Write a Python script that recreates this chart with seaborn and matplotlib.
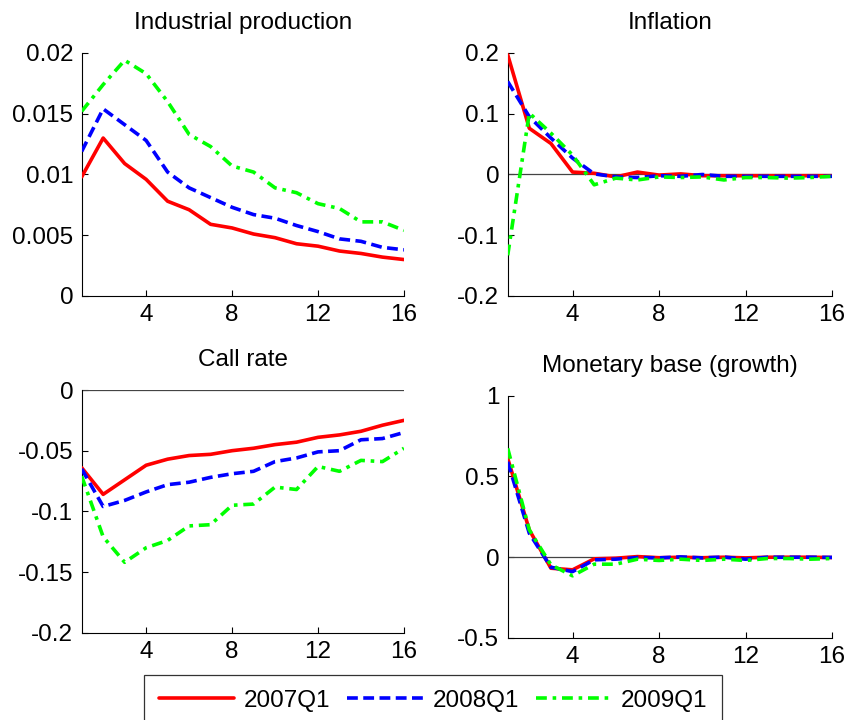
import numpy as np
import pandas as pd
import matplotlib
matplotlib.use("Agg")
import matplotlib.pyplot as plt
import seaborn as sns

sns.set_style("ticks")
plt.rcParams['font.family'] = ['Liberation Sans', 'DejaVu Sans']
plt.rcParams['text.color'] = 'black'
plt.rcParams['xtick.color'] = 'black'
plt.rcParams['ytick.color'] = 'black'
plt.rcParams['axes.edgecolor'] = 'black'

horizon = list(range(1, 17))
series_names = ["2007Q1", "2008Q1", "2009Q1"]
colors = ["#ff0000", "#0000ff", "#00ff00"]
styles = ["-", (0, (3.0, 1.5)), (0, (3.0, 1.6, 1.0, 1.6))]

ip_2007 = [0.0098, 0.0130, 0.0109, 0.0096, 0.0078, 0.0071, 0.0059, 0.0056, 0.0051, 0.0048, 0.0043, 0.0041, 0.0037, 0.0035, 0.0032, 0.0030]
ip_2008 = [0.0119, 0.0154, 0.0141, 0.0128, 0.0102, 0.0089, 0.0081, 0.0073, 0.0067, 0.0064, 0.0058, 0.0053, 0.0047, 0.0045, 0.0040, 0.0038]
ip_2009 = [0.0152, 0.0174, 0.0194, 0.0183, 0.0160, 0.0133, 0.0123, 0.0107, 0.0102, 0.0089, 0.0085, 0.0076, 0.0072, 0.0061, 0.0061, 0.0054]

inf_2007 = [0.197, 0.076, 0.051, 0.004, 0.002, -0.004, 0.004, -0.001, 0.001, -0.002, -0.002, -0.002, -0.002, -0.002, -0.002, -0.002]
inf_2008 = [0.153, 0.095, 0.060, 0.027, 0.001, -0.004, -0.005, -0.002, -0.003, 0.000, -0.003, -0.003, -0.003, -0.003, -0.003, -0.003]
inf_2009 = [-0.133, 0.101, 0.068, 0.032, -0.017, -0.006, -0.009, -0.004, -0.005, -0.004, -0.009, -0.005, -0.005, -0.006, -0.005, -0.003]

call_2007 = [-0.064, -0.086, -0.074, -0.062, -0.057, -0.054, -0.053, -0.050, -0.048, -0.045, -0.043, -0.039, -0.037, -0.034, -0.029, -0.025]
call_2008 = [-0.065, -0.096, -0.091, -0.084, -0.078, -0.076, -0.072, -0.069, -0.067, -0.059, -0.056, -0.051, -0.050, -0.041, -0.040, -0.035]
call_2009 = [-0.071, -0.121, -0.142, -0.130, -0.124, -0.112, -0.111, -0.095, -0.094, -0.080, -0.082, -0.063, -0.067, -0.058, -0.059, -0.048]

mb_2007 = [0.612, 0.169, -0.068, -0.078, -0.010, -0.006, 0.004, -0.003, 0.000, -0.003, 0.000, -0.004, 0.000, 0.000, 0.000, -0.002]
mb_2008 = [0.591, 0.148, -0.062, -0.089, -0.016, -0.012, -0.002, -0.004, 0.002, -0.004, 0.001, -0.012, 0.000, 0.000, 0.000, -0.001]
mb_2009 = [0.674, 0.169, -0.047, -0.115, -0.043, -0.043, -0.012, -0.020, -0.012, -0.020, -0.012, -0.020, -0.008, -0.008, -0.012, -0.008]

panels = [
    ("Industrial production", [ip_2007, ip_2008, ip_2009], (0, 0.02), [0, 0.005, 0.01, 0.015, 0.02], ["0", "0.005", "0.01", "0.015", "0.02"], False),
    ("Inflation", [inf_2007, inf_2008, inf_2009], (-0.2, 0.2), [-0.2, -0.1, 0, 0.1, 0.2], ["-0.2", "-0.1", "0", "0.1", "0.2"], True),
    ("Call rate", [call_2007, call_2008, call_2009], (-0.2, 0), [-0.2, -0.15, -0.1, -0.05, 0], ["-0.2", "-0.15", "-0.1", "-0.05", "0"], True),
    ("Monetary base (growth)", [mb_2007, mb_2008, mb_2009], (-0.5, 1), [-0.5, 0, 0.5, 1], ["-0.5", "0", "0.5", "1"], True),
]

positions = [
    [0.0962, 0.5889, 0.3796, 0.3375],
    [0.5980, 0.5889, 0.3820, 0.3375],
    [0.0962, 0.1213, 0.3796, 0.3370],
    [0.5980, 0.1139, 0.3820, 0.3365],
]

fig = plt.figure(figsize=(8.49, 7.2), dpi=100)
FS = 17.5
handles = None
for (title, vals, ylim, yt, ytl, zero), pos in zip(panels, positions):
    ax = fig.add_axes(pos)
    if zero:
        ax.axhline(0, color="#444444", lw=0.9, zorder=1)
    for name, v, c, ls in zip(series_names, vals, colors, styles):
        df = pd.DataFrame({"h": horizon, "v": v})
        sns.lineplot(data=df, x="h", y="v", ax=ax, color=c, lw=2.6, label=name, zorder=3)
        ax.lines[-1].set_linestyle(ls)
    ax.set_xlim(1, 16)
    ax.set_ylim(*ylim)
    ax.set_xticks([4, 8, 12, 16])
    ax.set_yticks(yt)
    ax.set_yticklabels(ytl)
    ax.tick_params(direction="in", labelsize=FS, length=4, width=0.8, pad=6)
    ax.set_xlabel("")
    ax.set_ylabel("")
    ax.set_title(title, fontsize=FS, pad=17)
    for s in ["top", "right"]:
        ax.spines[s].set_visible(False)
    for s in ["left", "bottom"]:
        ax.spines[s].set_linewidth(0.8)
    handles, labels = ax.get_legend_handles_labels()
    ax.get_legend().remove()

leg = fig.legend(handles, series_names, loc="upper center", bbox_to_anchor=(0.51, 0.0625),
                 ncol=3, fontsize=FS, frameon=True, fancybox=False, edgecolor="black",
                 handlelength=3.1, handletextpad=0.4, columnspacing=0.7, borderpad=0.6,
                 borderaxespad=0)
leg.get_frame().set_linewidth(0.9)

fig.savefig("out.png", dpi=100)
